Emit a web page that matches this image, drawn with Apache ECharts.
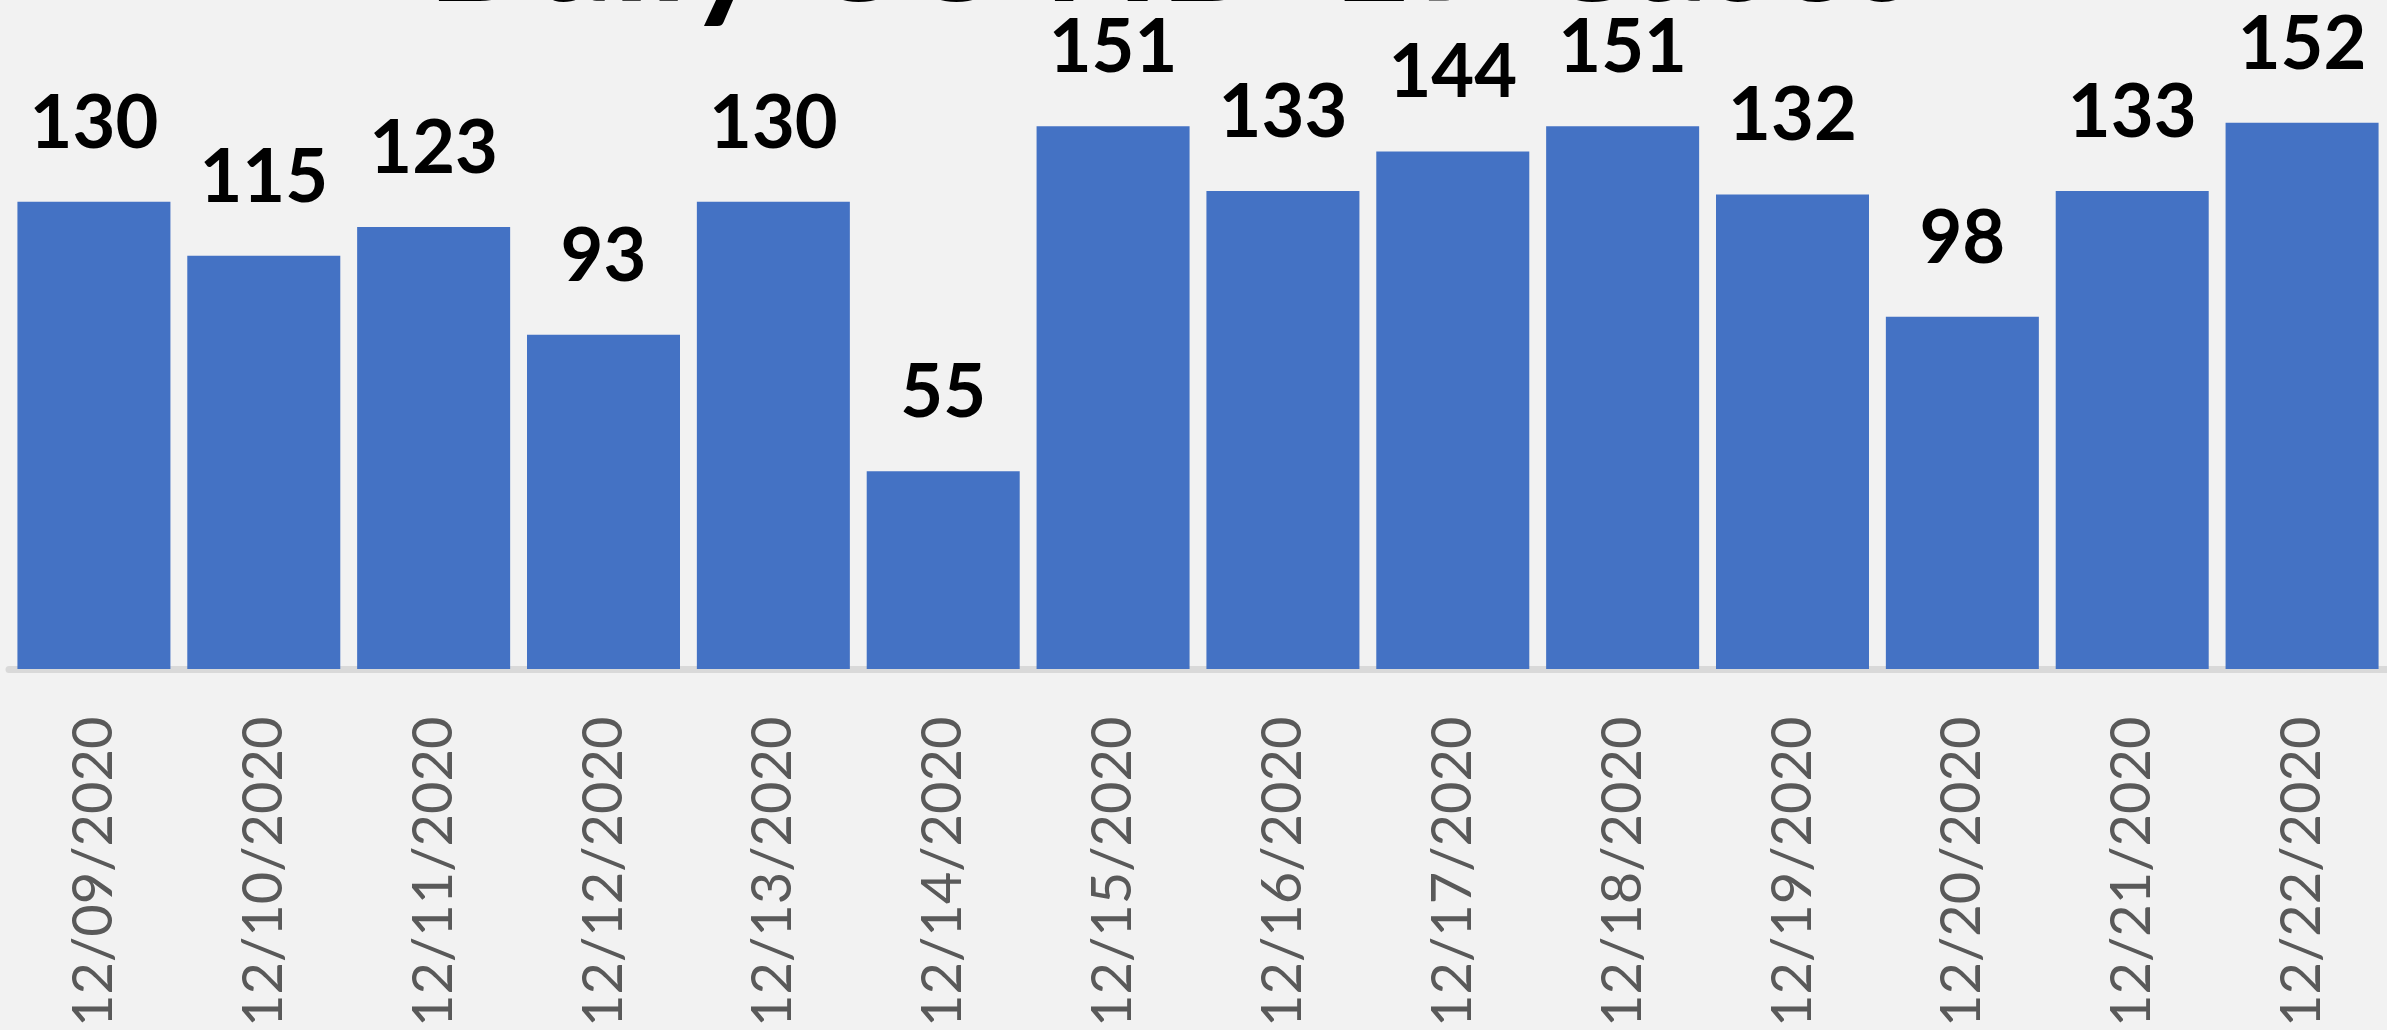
<!DOCTYPE html>
<html>
<head>
<meta charset="utf-8">
<script src="https://cdn.jsdelivr.net/npm/echarts@6/dist/echarts.min.js"></script>
<style>
html,body{margin:0;padding:0;background:#f2f2f2;}
#chart{width:2387px;height:1030px;}
</style>
</head>
<body>
<div id="chart"></div>
<script>
const titleText = 'Daily COVID-19 Cases';
const categories = ['12/09/2020','12/10/2020','12/11/2020','12/12/2020','12/13/2020','12/14/2020','12/15/2020','12/16/2020','12/17/2020','12/18/2020','12/19/2020','12/20/2020','12/21/2020','12/22/2020'];
const cases = [130,115,123,93,130,55,151,133,144,151,132,98,133,152];

const chart = echarts.init(document.getElementById('chart'));
chart.setOption({
  backgroundColor: '#f2f2f2',
  animation: false,
  graphic: [{
    type: 'text',
    x: 1172,
    y: 27,
    z: 10,
    style: {
      text: titleText,
      font: 'bold 148px Lato',
      fill: '#000000',
      align: 'center',
      verticalAlign: 'bottom'
    }
  }],
  grid: { left: 9, width: 2394, top: 22, bottom: 358, containLabel: false },
  xAxis: {
    type: 'category',
    data: categories,
    offset: 3.5,
    axisLine: { show: true, lineStyle: { color: '#d9d9d9', width: 7 } },
    axisTick: { show: false },
    axisLabel: {
      rotate: 90,
      margin: 44,
      interval: 0,
      color: '#595959',
      fontFamily: 'Lato',
      fontSize: 56
    }
  },
  yAxis: {
    type: 'value',
    min: 0,
    max: 180,
    show: false,
    splitLine: { show: false }
  },
  series: [{
    type: 'bar',
    data: cases,
    barWidth: 153,
    itemStyle: { color: '#4472c4' },
    label: {
      show: true,
      position: 'top',
      distance: 41,
      color: '#000000',
      fontFamily: 'Lato',
      fontWeight: 'bold',
      fontSize: 74
    }
  }]
});
</script>
</body>
</html>
